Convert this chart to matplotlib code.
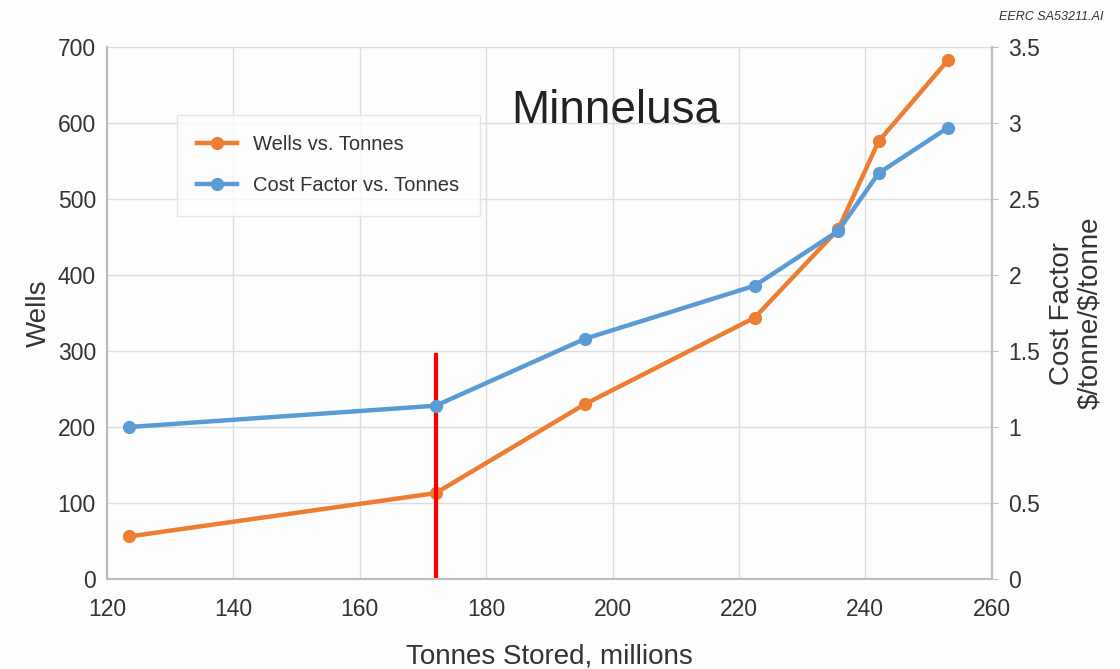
import numpy as np
from matplotlib import pyplot as plt

plt.rcParams['font.family'] = ['Liberation Sans', 'DejaVu Sans']

# data
tonnes_wells = [123.5, 172.0, 195.6, 222.5, 235.7, 242.1, 253.1]
wells = [56, 113, 230, 344, 460, 576, 683]
tonnes_cost = [123.5, 172.0, 195.6, 222.5, 235.7, 242.1, 253.1]
cost_factor = [1.00, 1.14, 1.58, 1.93, 2.29, 2.67, 2.97]
marker_x = 172.0
marker_top = 295

x_ticks = np.arange(120, 261, 20)
wells_ticks = np.arange(0, 701, 100)
cost_ticks = [0, 0.5, 1, 1.5, 2, 2.5, 3, 3.5]
cost_tick_labels = ["0", "0.5", "1", "1.5", "2", "2.5", "3", "3.5"]

orange = "#ED7D31"
blue = "#5B9BD5"
spine_c = "#bdbdbd"
grid_c = "#dddddd"
text_c = "#333333"

fig = plt.figure(figsize=(11.2, 6.69), dpi=100, facecolor="#fdfdfd")
ax = fig.add_axes([0.0955, 0.1345, 0.79, 0.7952], facecolor="#fdfdfd")
ax2 = ax.twinx()

l1, = ax.plot(tonnes_wells, wells, color=orange, lw=3.2, marker="o", ms=8.5,
              label="Wells vs. Tonnes", zorder=3)
l2, = ax2.plot(tonnes_cost, cost_factor, color=blue, lw=3.2, marker="o", ms=8.5,
               label="Cost Factor vs. Tonnes", zorder=3)
ax.plot([marker_x, marker_x], [0, marker_top], color="red", lw=3, zorder=4)

ax.set_xlim(120, 260)
ax.set_ylim(0, 700)
ax2.set_ylim(0, 3.5)
ax.set_xticks(x_ticks)
ax.set_yticks(wells_ticks)
ax2.set_yticks(cost_ticks)
ax2.set_yticklabels(cost_tick_labels)

ax.grid(True, color=grid_c, lw=1)
ax.set_axisbelow(True)
for a in (ax, ax2):
    a.spines['top'].set_visible(False)
    for s in ('left', 'right', 'bottom'):
        a.spines[s].set_color(spine_c)
        a.spines[s].set_linewidth(1.5)
ax.tick_params(axis='y', length=0, labelsize=16.5, labelcolor=text_c, pad=8)
ax.tick_params(axis='x', length=0, labelsize=16.5, labelcolor=text_c, pad=14)
ax2.tick_params(axis='y', length=4, color=spine_c, labelsize=16.5, labelcolor=text_c, pad=8)

ax.set_xlabel("Tonnes Stored, millions", fontsize=20, color=text_c, labelpad=16)
ax.set_ylabel("Wells", fontsize=20, color=text_c, labelpad=4)
ax2.set_ylabel("Cost Factor\n\\$/tonne/\\$/tonne", fontsize=20, color=text_c,
               labelpad=6, linespacing=1.15)

ax.text(0.575, 0.88, "Minnelusa", transform=ax.transAxes, fontsize=33,
        color="#222222", ha="center", va="center")
fig.text(0.985, 0.975, "EERC SA53211.AI", fontsize=9, style="italic",
         color="#333333", ha="right", va="center")

leg = ax.legend(handles=[l1, l2], loc="upper left", bbox_to_anchor=(0.079, 0.872),
                borderaxespad=0, fontsize=14.5, frameon=True, fancybox=False,
                borderpad=1.0, labelspacing=1.1, handlelength=2.0)
leg.get_frame().set_edgecolor("#e0e0e0")
leg.get_frame().set_facecolor("#fdfdfd")
for t in leg.get_texts():
    t.set_color(text_c)

plt.savefig("out.png", dpi=100, facecolor=fig.get_facecolor())
